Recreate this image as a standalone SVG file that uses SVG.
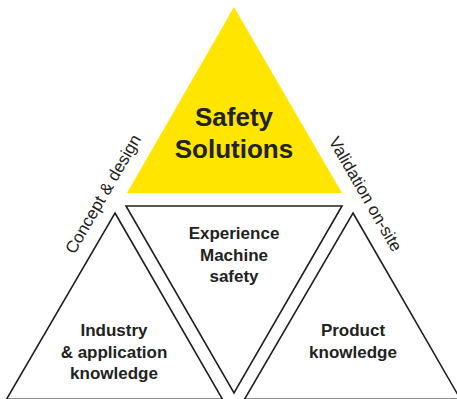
<svg xmlns="http://www.w3.org/2000/svg" width="457" height="399" viewBox="0 0 457 399">
<style>
.tri{fill:#ffffff;stroke:#1f1f1f;stroke-width:1.6;stroke-linejoin:miter}
.lbl{font-family:"Liberation Sans",Arial,sans-serif;font-weight:bold;font-size:17px;fill:#222222;text-anchor:middle}
.big{font-family:"Liberation Sans",Arial,sans-serif;font-weight:bold;font-size:26px;fill:#222222;text-anchor:middle}
.side{font-family:"Liberation Sans",Arial,sans-serif;font-size:17px;fill:#222222;text-anchor:middle}
</style>
<rect width="457" height="399" fill="#ffffff"/>
<g id="safety-solutions">
<polygon points="234,7 127,193 342,193" fill="#ffe500"/>
<text class="big" x="234" y="126">Safety</text>
<text class="big" x="234" y="158">Solutions</text>
</g>
<g id="experience">
<polygon class="tri" points="126,206 342,206 234,393"/>
<text class="lbl" x="234" y="239">Experience</text>
<text class="lbl" x="234" y="261">Machine</text>
<text class="lbl" x="234" y="282">safety</text>
</g>
<g id="industry">
<polygon class="tri" points="115,213 222.5,399.3 6.5,399.3"/>
<text class="lbl" x="114" y="336">Industry</text>
<text class="lbl" x="114" y="358">&amp; application</text>
<text class="lbl" x="114" y="379">knowledge</text>
</g>
<g id="product">
<polygon class="tri" points="353,213 460.5,399.3 244.5,399.3"/>
<text class="lbl" x="353" y="336">Product</text>
<text class="lbl" x="353" y="358">knowledge</text>
</g>
<g id="side-labels">
<text class="side" transform="translate(108,197) rotate(-60)">Concept &amp; design</text>
<text class="side" transform="translate(360.5,197) rotate(60)">Validation on-site</text>
</g>
</svg>
